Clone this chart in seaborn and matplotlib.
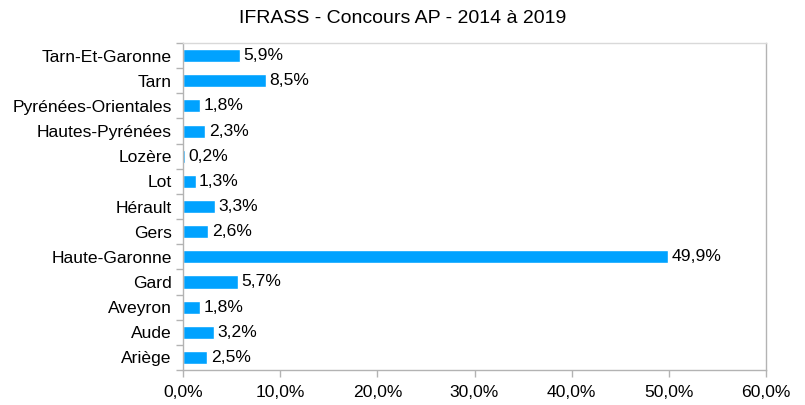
import matplotlib
matplotlib.use('Agg')
import matplotlib.pyplot as plt
from matplotlib.ticker import FuncFormatter, FixedLocator
import seaborn as sns
import pandas as pd

departements = ['Tarn-Et-Garonne', 'Tarn', 'Pyrénées-Orientales', 'Hautes-Pyrénées', 'Lozère', 'Lot',
                'Hérault', 'Gers', 'Haute-Garonne', 'Gard', 'Aveyron', 'Aude', 'Ariège']
pourcentages = [5.9, 8.5, 1.8, 2.3, 0.2, 1.3, 3.3, 2.6, 49.9, 5.7, 1.8, 3.2, 2.5]

df = pd.DataFrame({'dep': departements, 'pct': pourcentages})

sns.set_style('white')
plt.rcParams['font.family'] = ['Liberation Sans', 'DejaVu Sans']

fs = 12.6

fig = plt.figure(figsize=(8.05, 4.05), dpi=100)
ax = fig.add_axes([0.2273, 0.0864, 0.7243, 0.8074])

sns.barplot(data=df, x='pct', y='dep', orient='h', color='#00a2ff', width=0.52,
            saturation=1, ax=ax)

for i, v in enumerate(pourcentages):
    ax.text(v + 0.35, i, f'{v:.1f}%'.replace('.', ','), va='center', ha='left', fontsize=fs,
            color='#000000')

ax.set_xlim(0, 60)
ax.set_ylim(12.5, -0.5)
ax.set_xticks([0, 10, 20, 30, 40, 50, 60])
ax.xaxis.set_major_formatter(FuncFormatter(lambda v, p: f'{v:.1f}%'.replace('.', ',')))
ax.yaxis.set_minor_locator(FixedLocator([i - 0.5 for i in range(len(departements) + 1)]))
ax.tick_params(axis='y', which='major', length=0, pad=8, labelsize=fs, labelcolor='#000000')
ax.tick_params(axis='y', which='minor', length=5, width=1, color='#b3b3b3', left=True)
ax.tick_params(axis='x', which='major', length=5, width=1, color='#b3b3b3', bottom=True,
               labelsize=fs, labelcolor='#000000', pad=6)
ax.set_xlabel('')
ax.set_ylabel('')

for s in ax.spines.values():
    s.set_color('#b3b3b3')
    s.set_linewidth(1)
ax.spines['top'].set_color('#d9d9d9')

fig.suptitle('IFRASS - Concours AP - 2014 à 2019', y=0.975, fontsize=14, color='#000000')

fig.savefig('out.png', dpi=100, facecolor='white')
